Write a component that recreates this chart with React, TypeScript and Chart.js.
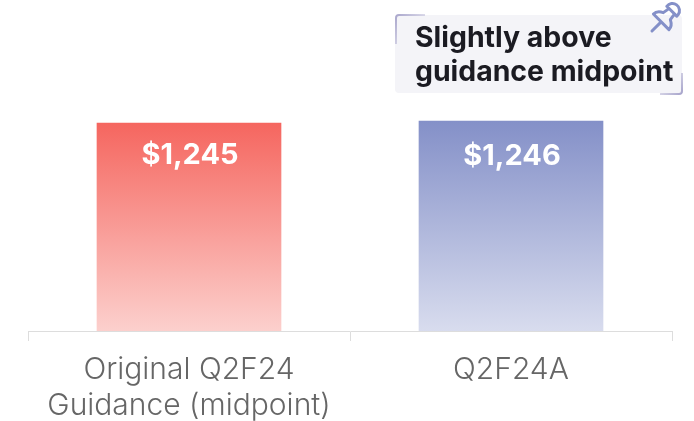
import React, { useEffect, useRef } from "react";
import { Chart, registerables } from "chart.js";

Chart.register(...registerables);

const categories = [["Original Q2F24", "Guidance (midpoint)"], ["Q2F24A"]];
const values = [1245, 1246];
const valueLabels = ["$1,245", "$1,246"];
const noteLines = ["Slightly above", "guidance midpoint"];
const topColors = ["#F5665F", "#8490C8"];
const bottomColors = ["#FCD0CD", "#D8DCEE"];
const FONT = "Inter, Lato, sans-serif";

const labelPlugin = {
  id: "valueLabels",
  afterDatasetsDraw(chart: any) {
    const { ctx } = chart;
    ctx.save();
    ctx.fillStyle = "#ffffff";
    ctx.font = `bold 29px ${FONT}`;
    ctx.textAlign = "center";
    ctx.textBaseline = "middle";
    chart.getDatasetMeta(0).data.forEach((el: any, i: number) => {
      ctx.fillText(valueLabels[i], el.x + 1, el.y + (i === 0 ? 32 : 35));
    });
    ctx.restore();
  },
};

const notePlugin = {
  id: "note",
  afterDraw(chart: any) {
    const { ctx } = chart;
    ctx.save();
    ctx.fillStyle = "#F4F4F8";
    ctx.beginPath();
    ctx.roundRect(395, 15, 287, 78, 4);
    ctx.fill();

    ctx.lineWidth = 2;
    let g = ctx.createLinearGradient(395, 15, 425, 40);
    g.addColorStop(0, "#A9A6CC");
    g.addColorStop(1, "rgba(169,166,204,0)");
    ctx.strokeStyle = g;
    ctx.beginPath();
    ctx.moveTo(396, 44);
    ctx.lineTo(396, 18);
    ctx.quadraticCurveTo(396, 15, 399, 15);
    ctx.lineTo(425, 15);
    ctx.stroke();
    g = ctx.createLinearGradient(682, 93, 660, 72);
    g.addColorStop(0, "#A9A6CC");
    g.addColorStop(1, "rgba(169,166,204,0)");
    ctx.strokeStyle = g;
    ctx.beginPath();
    ctx.moveTo(682, 73);
    ctx.lineTo(682, 91);
    ctx.quadraticCurveTo(682, 94, 679, 94);
    ctx.lineTo(660, 94);
    ctx.stroke();

    ctx.fillStyle = "#1B1B22";
    ctx.font = `bold 28.4px ${FONT}`;
    ctx.textAlign = "left";
    ctx.textBaseline = "alphabetic";
    noteLines.forEach((t, i) => ctx.fillText(t, 415, 47 + i * 34));

    // push-pin icon
    ctx.strokeStyle = "#8490C8";
    ctx.lineWidth = 3;
    ctx.lineJoin = "round";
    ctx.lineCap = "round";
    ctx.translate(664, 19);
    ctx.rotate(Math.PI / 4);
    ctx.beginPath();
    ctx.arc(0, -12, 7, Math.PI * 0.95, Math.PI * 0.05);
    ctx.moveTo(-7, -11);
    ctx.lineTo(7, -11);
    ctx.moveTo(-4, -10);
    ctx.lineTo(-5, -4);
    ctx.quadraticCurveTo(-11, -1, -11, 4);
    ctx.lineTo(11, 4);
    ctx.quadraticCurveTo(11, -1, 5, -4);
    ctx.lineTo(4, -10);
    ctx.moveTo(0, 4);
    ctx.lineTo(0, 17);
    ctx.stroke();
    ctx.restore();
  },
};

export default function App() {
  const ref = useRef<HTMLCanvasElement>(null);
  useEffect(() => {
    document.body.style.margin = "0";
    const chart = new Chart(ref.current as HTMLCanvasElement, {
      type: "bar",
      data: {
        labels: categories as any,
        datasets: [
          {
            data: values,
            barThickness: 184,
            backgroundColor: (c: any) => {
              const area = c.chart.chartArea;
              if (!area) return topColors[c.dataIndex];
              const y = c.chart.scales.y.getPixelForValue(values[c.dataIndex]);
              const g = c.chart.ctx.createLinearGradient(0, y, 0, area.bottom);
              g.addColorStop(0, topColors[c.dataIndex]);
              g.addColorStop(1, bottomColors[c.dataIndex]);
              return g;
            },
          },
        ],
      },
      options: {
        responsive: false,
        animation: false,
        layout: { padding: { left: 28, right: 22, top: 20, bottom: 0 } },
        plugins: { legend: { display: false }, tooltip: { enabled: false } },
        scales: {
          x: {
            afterFit: (s: any) => {
              s.height = 90;
            },
            grid: {
              offset: true,
              drawOnChartArea: false,
              drawTicks: true,
              tickLength: 10,
              color: "#DDDDDD",
            },
            border: { color: "#DDDDDD" },
            ticks: {
              color: "#666666",
              font: { family: FONT, size: 30, weight: 300, lineHeight: 1.2 },
              padding: 11,
              maxRotation: 0,
              autoSkip: false,
            },
          },
          y: { display: false, min: 1141, max: 1296.5 },
        },
      },
      plugins: [labelPlugin, notePlugin],
    } as any);
    return () => chart.destroy();
  }, []);
  return <canvas ref={ref} width={694} height={421} style={{ display: "block" }} />;
}
